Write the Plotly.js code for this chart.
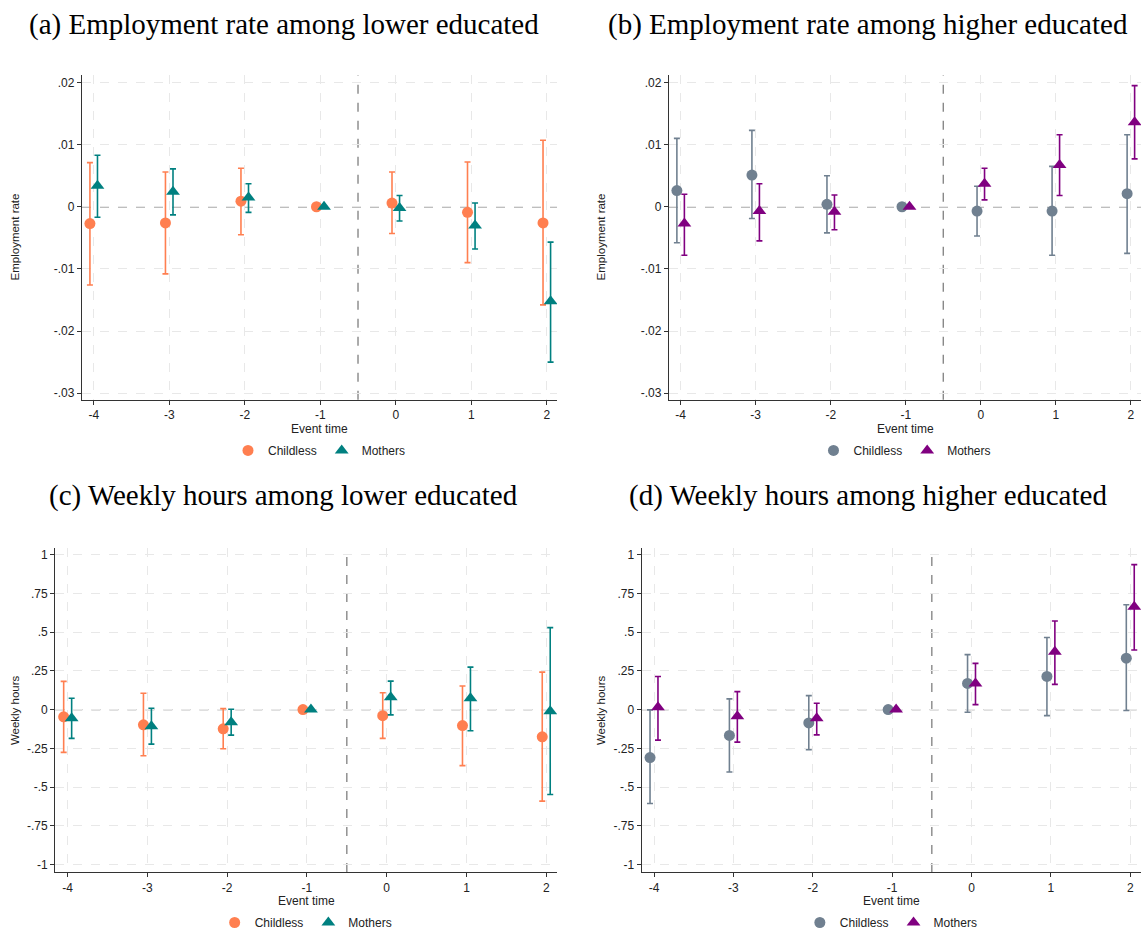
<!DOCTYPE html>
<html>
<head>
<meta charset="utf-8">
<script src="https://cdn.plot.ly/plotly-3.0.1.min.js"></script>
<style>html,body{margin:0;padding:0;background:#fff;}#chart{width:1142px;height:937px;}</style>
</head>
<body>
<div id="chart"></div>
<script>
// ---- Data ----
const eventTime = [-4, -3, -2, -1, 0, 1, 2];

// (a) Employment rate among lower educated
const aChild   = [-0.0027, -0.0026, 0.0009, 0, 0.0006, -0.0009, -0.0026];
const aChildHi = [0.0071, 0.0056, 0.0062, 0, 0.0056, 0.0072, 0.0107];
const aChildLo = [-0.0126, -0.0108, -0.0045, 0, -0.0043, -0.0090, -0.0158];
const aMoth    = [0.0034, 0.0024, 0.0015, 0, -0.0002, -0.0030, -0.0152];
const aMothHi  = [0.0083, 0.0061, 0.0037, 0, 0.0018, 0.0006, -0.0057];
const aMothLo  = [-0.0017, -0.0013, -0.0009, 0, -0.0023, -0.0068, -0.0250];

// (b) Employment rate among higher educated
const bChild   = [0.0026, 0.0051, 0.0004, 0, -0.0007, -0.0007, 0.0021];
const bChildHi = [0.0110, 0.0123, 0.0050, 0, 0.0033, 0.0065, 0.0116];
const bChildLo = [-0.0058, -0.0019, -0.0042, 0, -0.0047, -0.0078, -0.0075];
const bMoth    = [-0.0027, -0.0007, -0.0008, 0, 0.0037, 0.0067, 0.0136];
const bMothHi  = [0.0020, 0.0037, 0.0019, 0, 0.0062, 0.0116, 0.0195];
const bMothLo  = [-0.0078, -0.0055, -0.0037, 0, 0.0011, 0.0018, 0.0077];

// (c) Weekly hours among lower educated
const cChild   = [-0.047, -0.098, -0.124, 0, -0.039, -0.103, -0.176];
const cChildHi = [0.182, 0.105, 0.006, 0, 0.109, 0.152, 0.242];
const cChildLo = [-0.276, -0.298, -0.253, 0, -0.186, -0.362, -0.591];
const cMoth    = [-0.056, -0.107, -0.081, 0, 0.079, 0.073, -0.011];
const cMothHi  = [0.073, 0.009, 0.002, 0, 0.184, 0.274, 0.529];
const cMothLo  = [-0.186, -0.223, -0.165, 0, -0.034, -0.137, -0.548];

// (d) Weekly hours among higher educated
const dChild   = [-0.310, -0.167, -0.086, 0, 0.169, 0.214, 0.332];
const dChildHi = [-0.002, 0.069, 0.090, 0, 0.355, 0.465, 0.677];
const dChildLo = [-0.606, -0.403, -0.259, 0, -0.017, -0.039, -0.006];
const dMoth    = [0.015, -0.043, -0.056, 0, 0.169, 0.373, 0.664];
const dMothHi  = [0.214, 0.116, 0.041, 0, 0.298, 0.572, 0.936];
const dMothLo  = [-0.197, -0.210, -0.163, 0, 0.032, 0.163, 0.385];

const panelTitles = [
  '(a) Employment rate among lower educated',
  '(b) Employment rate among higher educated',
  '(c) Weekly hours among lower educated',
  '(d) Weekly hours among higher educated'
];
const seriesNames = ['Childless', 'Mothers'];
const xTickVals = [-4, -3, -2, -1, 0, 1, 2];
const xTickText = ['-4', '-3', '-2', '-1', '0', '1', '2'];
const empTickVals = [0.02, 0.01, 0, -0.01, -0.02, -0.03];
const empTickText = ['.02', '.01', '0', '-.01', '-.02', '-.03'];
const hrsTickVals = [1, 0.75, 0.5, 0.25, 0, -0.25, -0.5, -0.75, -1];
const hrsTickText = ['1', '.75', '.5', '.25', '0', '-.25', '-.5', '-.75', '-1'];

// ---- Style ----
const W = 1142, H = 937;
const SANS = 'Liberation Sans, Arial, sans-serif';
const SERIF = 'Liberation Serif, Times New Roman, serif';
const CORAL = '#ff7f50', TEAL = '#008080', SLATE = '#708090', PURPLE = '#800080';
const OFF = 0.05;

const panels = [
  {child: [aChild, aChildHi, aChildLo], moth: [aMoth, aMothHi, aMothLo], colors: [CORAL, TEAL],
   px: [82, 557], py: [75.7, 402.3], yr: [-0.03106, 0.02117], tv: empTickVals, tt: empTickText, ytitle: 'Employment rate', ytx: 15, tx: 284, ty: 25},
  {child: [bChild, bChildHi, bChildLo], moth: [bMoth, bMothHi, bMothLo], colors: [SLATE, PURPLE],
   px: [669, 1141], py: [75.7, 402.3], yr: [-0.03106, 0.02117], tv: empTickVals, tt: empTickText, ytitle: 'Employment rate', ytx: 601, tx: 868, ty: 25},
  {child: [cChild, cChildHi, cChildLo], moth: [cMoth, cMothHi, cMothLo], colors: [CORAL, TEAL],
   px: [55.3, 557], py: [551.7, 877.7], yr: [-1.049, 1.042], tv: hrsTickVals, tt: hrsTickText, ytitle: 'Weekly hours', ytx: 15, tx: 283, ty: 499},
  {child: [dChild, dChildHi, dChildLo], moth: [dMoth, dMothHi, dMothLo], colors: [SLATE, PURPLE],
   px: [641.7, 1141], py: [551.7, 877.7], yr: [-1.049, 1.042], tv: hrsTickVals, tt: hrsTickText, ytitle: 'Weekly hours', ytx: 601, tx: 868, ty: 499}
];

const data = [];
const layout = {
  width: W, height: H,
  margin: {l: 0, r: 0, t: 0, b: 0},
  paper_bgcolor: '#fff', plot_bgcolor: '#fff',
  font: {family: SANS, size: 12, color: '#222'},
  showlegend: true,
  annotations: [], shapes: []
};

panels.forEach((p, i) => {
  const n = i + 1;
  const xa = 'x' + (n === 1 ? '' : n), ya = 'y' + (n === 1 ? '' : n);
  const xKey = 'xaxis' + (n === 1 ? '' : n), yKey = 'yaxis' + (n === 1 ? '' : n);
  const legKey = 'legend' + (n === 1 ? '' : n);
  const x0 = p.px[0] / W, x1 = p.px[1] / W;
  const y0 = (H - p.py[1]) / H, y1 = (H - p.py[0]) / H;
  const xr = [-4.155, 2.135];

  layout[xKey] = {
    domain: [x0, x1], anchor: ya, range: xr,
    tickmode: 'array', tickvals: xTickVals, ticktext: xTickText,
    showgrid: true, gridcolor: '#e8e8e8', griddash: 'dash', gridwidth: 1,
    zeroline: false, showline: true, linecolor: '#333', linewidth: 1.2,
    ticks: 'outside', ticklen: 4, tickcolor: '#333', tickwidth: 1,
    tickfont: {family: SANS, size: 12, color: '#222'}, fixedrange: true
  };
  layout[yKey] = {
    domain: [y0, y1], anchor: xa, range: p.yr,
    tickmode: 'array', tickvals: p.tv, ticktext: p.tt,
    showgrid: true, gridcolor: '#e8e8e8', griddash: 'dash', gridwidth: 1,
    zeroline: false, showline: true, linecolor: '#333', linewidth: 1.2,
    ticks: 'outside', ticklen: 4, tickcolor: '#333', tickwidth: 1,
    tickfont: {family: SANS, size: 12, color: '#222'}, fixedrange: true
  };
  layout[legKey] = {
    orientation: 'h', x: (x0 + x1) / 2, xanchor: 'center',
    y: (H - (p.py[1] + 51)) / H, yanchor: 'middle',
    font: {family: SANS, size: 12, color: '#222'}, bgcolor: 'rgba(0,0,0,0)',
    itemwidth: 30, tracegroupgap: 0
  };

  const sets = [p.child, p.moth];
  sets.forEach((s, k) => {
    const [v, hi, lo] = s;
    const col = p.colors[k];
    const xs = eventTime.map(t => t + (k === 0 ? -OFF : OFF));
    data.push({
      type: 'scatter', mode: 'markers', x: xs, y: v, xaxis: xa, yaxis: ya,
      showlegend: false, hoverinfo: 'skip',
      marker: {color: col, size: k === 0 ? 11 : 12, symbol: k === 0 ? 'circle' : 'triangle-up', line: {width: 0}},
      error_y: {type: 'data', symmetric: false,
        array: hi.map((h, j) => h - v[j]), arrayminus: lo.map((l, j) => v[j] - l),
        color: col, thickness: 1.6, width: 3}
    });
    data.push({
      type: 'scatter', mode: 'markers', x: [null], y: [null], xaxis: xa, yaxis: ya,
      name: seriesNames[k], legend: legKey, showlegend: true,
      marker: {color: col, size: k === 0 ? 11 : 12, symbol: k === 0 ? 'circle' : 'triangle-up'}
    });
  });

  // zero line and event line
  layout.shapes.push({type: 'line', xref: xa + ' domain', yref: ya, x0: 0, x1: 1, y0: 0, y1: 0,
    line: {color: '#7f7f7f', width: 1.3, dash: 'dash'}, layer: 'below'});
  layout.shapes.push({type: 'line', xref: xa, yref: ya + ' domain', x0: -0.5, x1: -0.5, y0: 0, y1: 1,
    line: {color: '#7f7f7f', width: 1.3, dash: 'dash'}, layer: 'below'});

  // panel title
  layout.annotations.push({text: panelTitles[i], xref: 'paper', yref: 'paper', x: p.tx / W, y: (H - p.ty) / H,
    xanchor: 'center', yanchor: 'middle', showarrow: false, font: {family: SERIF, size: 29, color: '#000'}});
  // x-axis title
  layout.annotations.push({text: 'Event time', xref: 'paper', yref: 'paper', x: (x0 + x1) / 2, y: (H - (p.py[1] + 29)) / H,
    xanchor: 'center', yanchor: 'middle', showarrow: false, font: {family: SANS, size: 12, color: '#222'}});
  // y-axis title
  layout.annotations.push({text: p.ytitle, xref: 'paper', yref: 'paper', x: p.ytx / W, y: (y0 + y1) / 2,
    xanchor: 'center', yanchor: 'middle', textangle: -90, showarrow: false, font: {family: SANS, size: 11.5, color: '#222'}});
});

Plotly.newPlot('chart', data, layout, {displayModeBar: false, staticPlot: true});
</script>
</body>
</html>
